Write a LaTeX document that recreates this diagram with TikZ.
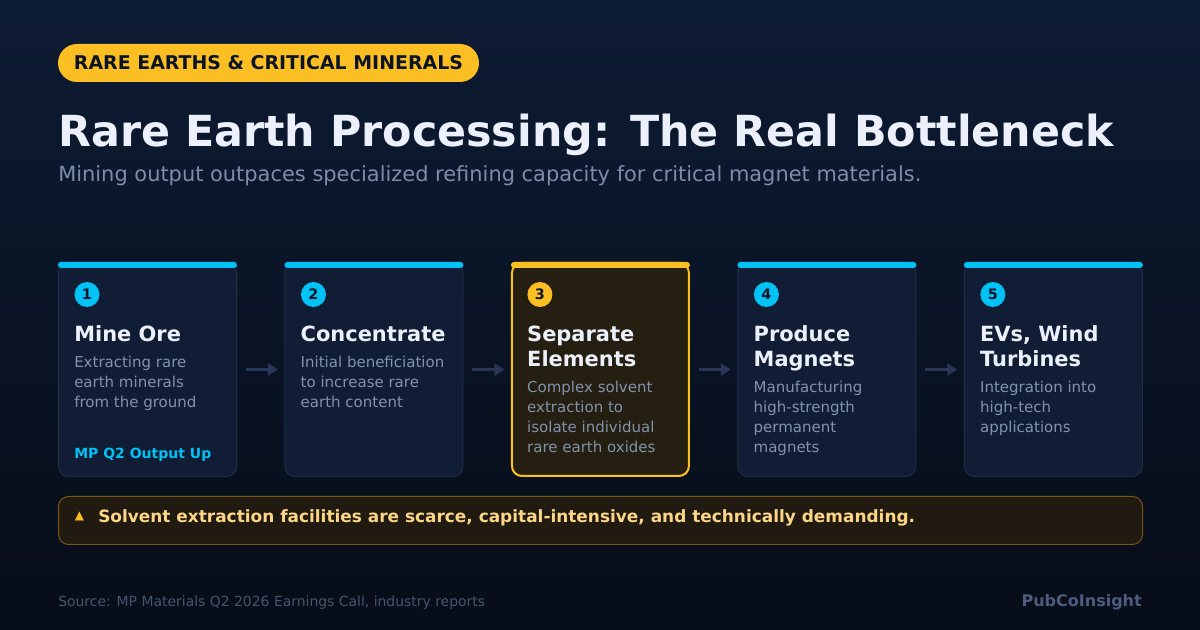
\documentclass[tikz,border=0pt]{standalone}
\usepackage{fontspec}
\setmainfont{DejaVu Sans}
\usepackage{xcolor}
\usetikzlibrary{arrows.meta,positioning,calc}

\definecolor{bgtop}{HTML}{0D1B33}
\definecolor{bgbot}{HTML}{070D18}
\definecolor{cardfill}{HTML}{101D35}
\definecolor{cardline}{HTML}{1F2D47}
\definecolor{hotfill}{HTML}{241F10}
\definecolor{amber}{HTML}{FBBF24}
\definecolor{cyanbar}{HTML}{00C2F5}
\definecolor{headwhite}{HTML}{EBF0FA}
\definecolor{subgrey}{HTML}{7D8CAB}
\definecolor{descgrey}{HTML}{8291AC}
\definecolor{inkdark}{HTML}{0B1426}
\definecolor{arrowgrey}{HTML}{283757}
\definecolor{warnfill}{HTML}{201A10}
\definecolor{warnline}{HTML}{7A5514}
\definecolor{warntext}{HTML}{FCD686}
\definecolor{footgrey}{HTML}{46556E}
\definecolor{brandgrey}{HTML}{4B5C7D}

\begin{document}
\begin{tikzpicture}[
  x=0.75pt, y=-0.75pt,
  node distance=35.6pt,
  card/.style={rectangle, rounded corners=7.5pt, draw=cardline, line width=0.75pt, fill=cardfill,
               minimum width=133.5pt, minimum height=160.5pt, inner sep=0pt},
  hotcard/.style={card, draw=amber, line width=1.5pt, fill=hotfill, minimum width=132.75pt, minimum height=159.75pt},
  stepnum/.style={circle, fill=cyanbar, text=inkdark, minimum size=18.75pt, inner sep=0pt,
                  font=\bfseries\fontsize{10.8pt}{10.8pt}\selectfont},
  steptitle/.style={anchor=base west, inner sep=0pt, align=left, text=headwhite,
                    font=\bfseries\fontsize{15.7pt}{18.75pt}\selectfont},
  stepdesc/.style={anchor=base west, inner sep=0pt, align=left, text=descgrey,
                   font=\fontsize{11.25pt}{15pt}\selectfont},
  flow/.style={-{Triangle[length=7.5pt,width=9pt]}, line width=2.25pt, draw=arrowgrey,
               shorten <=6.75pt, shorten >=4.9pt}
]
\useasboundingbox (0,0) rectangle (1200,630);
\shade[top color=bgtop, bottom color=bgbot] (0,0) rectangle (1200,630);

% header
\node[rectangle, rounded corners=14.25pt, fill=amber, text=inkdark, minimum width=315.75pt, minimum height=28.5pt,
      font=\bfseries\fontsize{14.2pt}{14.2pt}\selectfont] (badge) at (268.5,63) {RARE EARTHS \& CRITICAL MINERALS};
\node[anchor=base west, inner sep=0pt, text=headwhite, font=\bfseries\fontsize{32.1pt}{32.1pt}\selectfont]
  (title) at (58,147) {Rare Earth Processing: The Real Bottleneck};
\node[anchor=base west, inner sep=0pt, text=subgrey, font=\fontsize{15.7pt}{15.7pt}\selectfont]
  (subtitle) at (58,182) {Mining output outpaces specialized refining capacity for critical magnet materials.};

% cards (multi-line text nodes sit on their last baseline)
\node[card, anchor=north west] (mine) at (58,262) {};
\node[card, right=of mine] (conc) {};
\node[hotcard, right=of conc] (sep) {};
\node[card, right=of sep] (magnet) {};
\node[card, right=of magnet] (apps) {};

\fill[cyanbar, rounded corners=2.25pt] (mine.north west) rectangle ($(mine.north east)+(0,6)$);
\fill[cyanbar, rounded corners=2.25pt] (conc.north west) rectangle ($(conc.north east)+(0,6)$);
\fill[amber, rounded corners=2.25pt] (sep.north west) rectangle ($(sep.north east)+(0,6)$);
\fill[cyanbar, rounded corners=2.25pt] (magnet.north west) rectangle ($(magnet.north east)+(0,6)$);
\fill[cyanbar, rounded corners=2.25pt] (apps.north west) rectangle ($(apps.north east)+(0,6)$);

\node[stepnum] (mine-n) at ($(mine.north west)+(29,32.5)$) {1};
\node[steptitle] (mine-t) at ($(mine.north west)+(16,79.5)$) {Mine Ore};
\node[stepdesc] (mine-d) at ($(mine.north west)+(16,145.5)$) {Extracting rare\\earth minerals\\from the ground};
\node[anchor=base west, inner sep=0pt, text=cyanbar, font=\bfseries\fontsize{10.5pt}{10.5pt}\selectfont]
  (mine-tag) at ($(mine.north west)+(16,197)$) {MP Q2 Output Up};

\node[stepnum] (conc-n) at ($(conc.north west)+(29,32.5)$) {2};
\node[steptitle] (conc-t) at ($(conc.north west)+(16,79.5)$) {Concentrate};
\node[stepdesc] (conc-d) at ($(conc.north west)+(16,145.5)$) {Initial beneficiation\\to increase rare\\earth content};

\node[stepnum, fill=amber] (sep-n) at ($(sep.north west)+(29,32.5)$) {3};
\node[steptitle] (sep-t) at ($(sep.north west)+(16,104.5)$) {Separate\\Elements};
\node[stepdesc] (sep-d) at ($(sep.north west)+(16,191)$) {Complex solvent\\extraction to\\isolate individual\\rare earth oxides};

\node[stepnum] (magnet-n) at ($(magnet.north west)+(29,32.5)$) {4};
\node[steptitle] (magnet-t) at ($(magnet.north west)+(16,104.5)$) {Produce\\Magnets};
\node[stepdesc] (magnet-d) at ($(magnet.north west)+(16,191)$) {Manufacturing\\high-strength\\permanent\\magnets};

\node[stepnum] (apps-n) at ($(apps.north west)+(29,32.5)$) {5};
\node[steptitle] (apps-t) at ($(apps.north west)+(16,104.5)$) {EVs, Wind\\Turbines};
\node[stepdesc] (apps-d) at ($(apps.north west)+(16,171)$) {Integration into\\high-tech\\applications};

\draw[flow] (mine) -- (conc);
\draw[flow] (conc) -- (sep);
\draw[flow] (sep) -- (magnet);
\draw[flow] (magnet) -- (apps);

% warning strip
\node[rectangle, rounded corners=7.5pt, draw=warnline, line width=0.75pt, fill=warnfill,
      minimum width=813pt, minimum height=36pt, anchor=north west] (warn) at (58,496) {};
\node[inner sep=0pt, text=amber, font=\fontsize{9pt}{9pt}\selectfont] (warn-i) at (79.5,516) {▲};
\node[anchor=base west, inner sep=0pt, text=warntext, font=\bfseries\fontsize{12.7pt}{12.7pt}\selectfont]
  (warn-t) at (98,523) {Solvent extraction facilities are scarce, capital-intensive, and technically demanding.};

% footer
\node[anchor=base west, inner sep=0pt, text=footgrey, font=\fontsize{10.45pt}{10.45pt}\selectfont]
  (source) at (58,607) {Source: MP Materials Q2 2026 Earnings Call, industry reports};
\node[anchor=base east, inner sep=0pt, text=brandgrey, font=\bfseries\fontsize{12pt}{12pt}\selectfont]
  (brand) at (1142,607) {PubCoInsight};
\end{tikzpicture}
\end{document}
